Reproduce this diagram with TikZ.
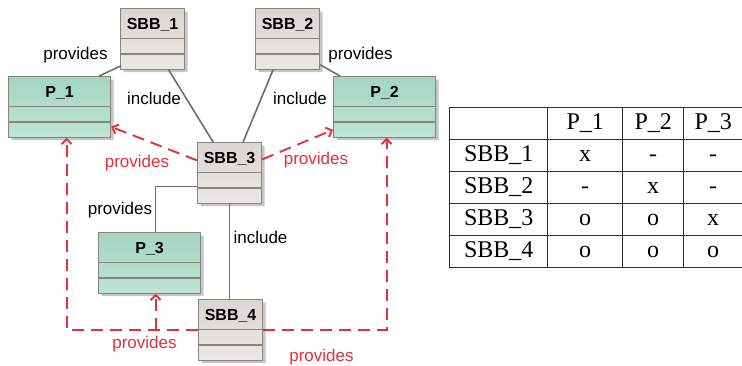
\documentclass[tikz,border=0pt]{standalone}
\usepackage{fontspec}
\setmainfont{Liberation Serif}
\setsansfont{Liberation Sans}
\usetikzlibrary{arrows.meta, positioning, shapes.multipart, shadows, matrix}

\definecolor{boxline}{HTML}{8A847E}
\definecolor{sbbtop}{HTML}{DAD6D2}
\definecolor{sbbbot}{HTML}{EAE8E5}
\definecolor{ptop}{HTML}{A2D6C0}
\definecolor{pbot}{HTML}{BEE4D4}
\definecolor{linkgray}{HTML}{6E6E6E}
\definecolor{provred}{HTML}{E2303E}
\definecolor{tabline}{HTML}{303030}

\tikzstyle{umlbox}=[rectangle split, rectangle split parts=3, draw=boxline,
                    line width=1.2pt, inner xsep=2pt, inner ysep=0pt,
                    anchor=north west,
                    font=\sffamily\bfseries\fontsize{16}{16}\selectfont,
                    drop shadow={shadow xshift=3pt, shadow yshift=-3pt,
                                 fill=black!45, opacity=0.5}]
\tikzstyle{sbb}=[umlbox, minimum width=64pt, top color=sbbtop, bottom color=sbbbot]
\tikzstyle{prop}=[umlbox, minimum width=102pt, top color=ptop, bottom color=pbot]
\tikzstyle{link}=[draw=linkgray, line width=1.6pt]
\tikzstyle{provide}=[draw=provred, line width=1.9pt, dash pattern=on 12pt off 7pt,
                     -{Straight Barb[length=5pt, width=10pt]}]
\tikzstyle{lbl}=[font=\sffamily\fontsize{17}{17}\selectfont, inner sep=0pt]
\tikzstyle{redlbl}=[lbl, text=provred]

\newcommand{\umlname}[1]{\rule[-8.5pt]{0pt}{29pt}#1%
  \nodepart{second}\rule{0pt}{14pt}\nodepart{third}\rule{0pt}{14pt}}

\begin{document}
\begin{tikzpicture}[x=1pt, y=-1pt]
  \useasboundingbox[fill=white] (0,0) rectangle (742,366);

  % building blocks and properties
  \node[sbb] (s1) at (120,8) {\umlname{SBB\_1}};
  \node[sbb] (s2) at (255,8) {\umlname{SBB\_2}};
  \node[sbb] (s3) at (197,142) {\umlname{SBB\_3}};
  \node[sbb] (s4) at (198,299) {\umlname{SBB\_4}};
  \node[prop] (p1) at (8,76) {\umlname{P\_1}};
  \node[prop] (p2) at (333,76) {\umlname{P\_2}};
  \node[prop] (p3) at (98,232) {\umlname{P\_3}};

  % solid links
  \path[link] ([shift={(1,-4)}]s1.south west) edge ([xshift=-12pt]p1.north east);
  \path[link] ([xshift=16pt]s1.south) edge ([xshift=-16.5pt]s3.north);
  \path[link] ([xshift=-14.5pt]s2.south) edge ([xshift=13.5pt]s3.north);
  \path[link] ([shift={(0,-5)}]s2.south east) edge ([xshift=7pt]p2.north west);
  \draw[link] ([shift={(0,13.5)}]s3.west) -| ([xshift=6pt]p3.north);
  \draw[link] (s3.south) -- (s3.south |- s4.north);

  % derived provides
  \draw[provide] ([shift={(0,-12.5)}]s3.west) -- ([shift={(0,-11)}]p1.south east);
  \draw[provide] ([shift={(0,-13.5)}]s3.east) -- ([shift={(0,-8)}]p2.south west);
  \draw[provide] (s4.west) -| ([xshift=7pt]p1.south);
  \draw[provide] ([xshift=6pt]p3.south |- s4.west) -- ([xshift=6pt]p3.south);
  \draw[provide] (s4.east) -| ([xshift=2pt]p2.south);

  % labels
  \node[lbl] (l1) at (75.5,55.5) {provides};
  \node[lbl] (l2) at (154,98.5) {include};
  \node[lbl] (l3) at (300,98.5) {include};
  \node[lbl] (l4) at (360.5,55.5) {provides};
  \node[redlbl] (l5) at (137,163) {provides};
  \node[redlbl] (l6) at (316,160) {provides};
  \node[lbl] (l7) at (120,210.5) {provides};
  \node[lbl] (l8) at (260.5,237) {include};
  \node[redlbl] (l9) at (144.5,344.5) {provides};
  \node[redlbl] (l10) at (321.5,357) {provides};

  % relation table
  \matrix (tbl) [matrix of nodes, nodes in empty cells, anchor=north west,
    inner sep=0pt, column sep=-1pt, row sep=-1pt,
    nodes={draw=tabline, line width=1pt, minimum height=32pt, inner sep=0pt,
           text height=16pt, text depth=4pt, font=\fontsize{24}{24}\selectfont},
    column 1/.style={nodes={minimum width=98pt}},
    column 2/.style={nodes={minimum width=75pt}},
    column 3/.style={nodes={minimum width=61pt}},
    column 4/.style={nodes={minimum width=59pt}}] at (449,107) {
          & P\_1 & P\_2 & P\_3 \\
    SBB\_1 & x   & -    & -    \\
    SBB\_2 & -   & x    & -    \\
    SBB\_3 & o   & o    & x    \\
    SBB\_4 & o   & o    & o    \\
  };
\end{tikzpicture}
\end{document}
